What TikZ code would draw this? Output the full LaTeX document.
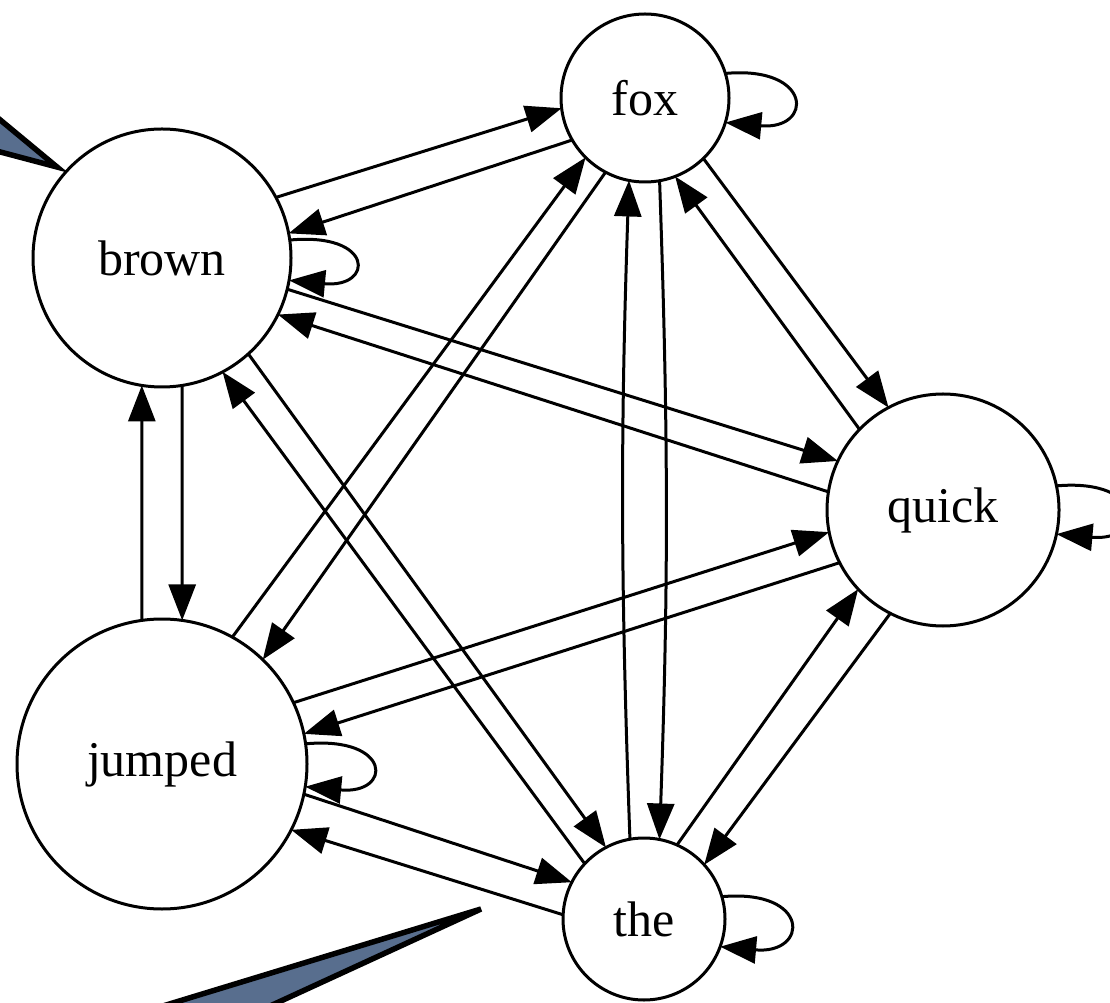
\documentclass[tikz,border=0pt]{standalone}
\usepackage{fontspec}
\setmainfont{Liberation Serif}
\usetikzlibrary{arrows.meta}
\definecolor{wedgeblue}{RGB}{88,110,142}
\tikzset{
  vnode/.style={circle, draw, line width=3pt, inner sep=0pt, outer sep=0pt, fill=white,
    font=\fontsize{50}{60}\selectfont},
  edge/.style={line width=3pt, -{Triangle[length=36pt,width=27pt]}},
  wedge/.style={fill=wedgeblue, draw=black, line width=5.5pt, line join=miter}
}
\begin{document}
\begin{tikzpicture}[x=1pt,y=1pt]
\useasboundingbox (0,0) rectangle (1110,1002);
\clip (0,0) rectangle (1110,1002);
\fill[white] (0,0) rectangle (1110,1002);
% wedges
\filldraw[wedge] (57,835) -- (-60,932) -- (-60,866) -- cycle;
\filldraw[wedge] (481,93) -- (12,-50) -- (170,-50) -- cycle;
% nodes
\node[vnode, minimum size=168pt] (fox) at (645,904) {fox};
\node[vnode, minimum size=258pt] (brown) at (162,744) {brown};
\node[vnode, minimum size=232pt] (quick) at (943,492) {quick};
\node[vnode, minimum size=290pt] (jumped) at (162,238) {jumped};
\node[vnode, minimum size=162pt] (the) at (644,83) {the};
% edges
\draw[edge] (brown.28) -- (fox.187);
\draw[edge] (fox.210) -- (brown.11);
\draw[edge] (brown.-14) -- (quick.155);
\draw[edge] (quick.171) -- (brown.-26);
\draw[edge] (brown.-81) -- (jumped.82);
\draw[edge] (jumped.98) -- (brown.-99);
\draw[edge] (brown.-48) -- (the.118);
\draw[edge] (the.137) -- (brown.-62);
\draw[edge] (jumped.61) -- (fox.-135);
\draw[edge] (fox.-118) -- (jumped.46);
\draw[edge] (fox.-80) to[bend left=2] (the.79);
\draw[edge] (the.100) to[bend left=2] (fox.-101);
\draw[edge] (fox.-46) -- (quick.118);
\draw[edge] (quick.136) -- (fox.-69);
\draw[edge] (quick.-153) -- (jumped.12);
\draw[edge] (jumped.25) -- (quick.191);
\draw[edge] (quick.-117) -- (the.42);
\draw[edge] (the.66) -- (quick.-137);
\draw[edge] (jumped.-12) -- (the.153);
\draw[edge] (the.177) -- (jumped.-27);
% self loops
\draw[edge] (brown.8) .. controls +(85,8) and +(85,-8) .. (brown.-10);
\draw[edge] (fox.17) .. controls +(88,8) and +(88,-8) .. (fox.-17);
\draw[edge] (quick.12) .. controls +(90,8) and +(90,-8) .. (quick.-12);
\draw[edge] (jumped.8) .. controls +(87,8) and +(87,-8) .. (jumped.-9);
\draw[edge] (the.16) .. controls +(89,8) and +(89,-8) .. (the.-20);
\end{tikzpicture}
\end{document}
